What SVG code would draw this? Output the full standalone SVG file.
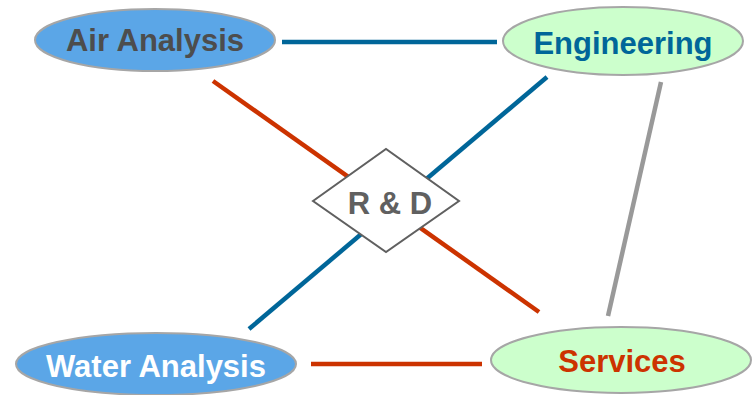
<svg xmlns="http://www.w3.org/2000/svg" width="753" height="395" viewBox="0 0 753 395">
  <style>
    .lbl { font-family: "Liberation Sans", Arial, sans-serif; font-weight: bold; font-size: 31px; text-anchor: middle; }
    .blueNode { fill: #5ba6e7; stroke: #a6a6a6; stroke-width: 2; }
    .greenNode { fill: #ccffcc; stroke: #a6a6a6; stroke-width: 2; }
    .conn { stroke-width: 4.5; fill: none; stroke-linecap: butt; }
    .blue { stroke: #006699; }
    .red { stroke: #cc3300; }
    .gray { stroke: #999999; }
  </style>
  <rect width="753" height="395" fill="#ffffff"/>
  <g id="connectors">
    <line class="conn blue" x1="282" y1="42" x2="497" y2="42"/>
    <line class="conn red" x1="311" y1="364" x2="482" y2="364"/>
    <line class="conn red" x1="213" y1="81" x2="539" y2="312"/>
    <line class="conn blue" x1="547" y1="77" x2="249" y2="329"/>
    <line class="conn gray" x1="661" y1="82" x2="608" y2="316"/>
  </g>
  <g id="air-analysis">
    <ellipse class="blueNode" cx="155" cy="40" rx="120" ry="31"/>
    <text class="lbl" x="155" y="51" fill="#4d4d4d">Air Analysis</text>
  </g>
  <g id="engineering">
    <ellipse class="greenNode" cx="623" cy="41" rx="120" ry="34"/>
    <text class="lbl" x="623" y="54" fill="#006699">Engineering</text>
  </g>
  <g id="rnd">
    <polygon points="313,201 386,149 459,201 386,252" fill="#ffffff" stroke="#606060" stroke-width="2"/>
    <text class="lbl" x="390" y="214" fill="#606060">R &amp; D</text>
  </g>
  <g id="water-analysis">
    <ellipse class="blueNode" cx="156" cy="364" rx="140" ry="31"/>
    <text class="lbl" x="156" y="377" fill="#ffffff">Water Analysis</text>
  </g>
  <g id="services">
    <ellipse class="greenNode" cx="621" cy="360" rx="130" ry="33"/>
    <text class="lbl" x="622" y="372" fill="#cc3300">Services</text>
  </g>
</svg>
